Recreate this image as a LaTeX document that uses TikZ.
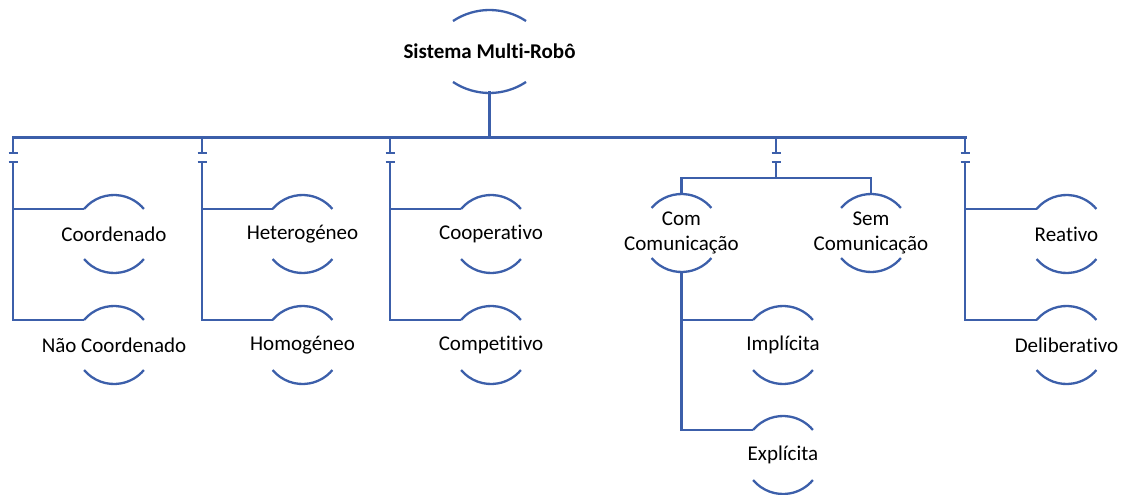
\documentclass[tikz,border=0pt]{standalone}
\usepackage{fontspec}
\setmainfont{Carlito}[Ligatures=NoCommon]
\usetikzlibrary{calc}
\definecolor{linkblue}{RGB}{60,95,170}

\begin{document}
\begin{tikzpicture}[x=1pt, y=1pt,
  ln/.style={linkblue, line width=2.3pt},
  busln/.style={linkblue, line width=3pt, line cap=rect},
  lbl/.style={inner sep=0pt, align=center, font=\fontsize{21}{25}\selectfont}]
  \useasboundingbox (0,0) rectangle (1125,-495);
  % ---- root ----
  \node[lbl, font=\bfseries\fontsize{21}{25}\selectfont] (sist) at (489.5,-51.5) {Sistema Multi-Robô};
  \draw[ln] ([yshift=-24.5pt]sist.center) ++(56.4:66) arc (56.4:123.6:66);
  \draw[ln] ([yshift=24.5pt]sist.center) ++(236.4:66) arc (236.4:303.6:66);
  \coordinate (sist-b) at ([yshift=-41.5pt]sist.center);
  % ---- leaves ----
  \node[lbl] (coord) at (114,-234) {Coordenado};
  \node[lbl] (ncoord) at (114,-345) {Não Coordenado};
  \node[lbl] (hetero) at (302.5,-234) {Heterogéneo};
  \node[lbl] (homo) at (302.5,-345) {Homogéneo};
  \node[lbl] (coop) at (491,-234) {Cooperativo};
  \node[lbl] (compet) at (491,-345) {Competitivo};
  \node[lbl] (comcom) at (681.5,-233) {Com\\Comunicação};
  \node[lbl] (semcom) at (871,-233) {Sem\\Comunicação};
  \node[lbl] (impl) at (783,-345) {Implícita};
  \node[lbl] (expl) at (783,-455) {Explícita};
  \node[lbl] (reat) at (1066.5,-234) {Reativo};
  \node[lbl] (delib) at (1066.5,-345) {Deliberativo};
  \foreach \n in {coord,ncoord,hetero,homo,coop,compet,comcom,semcom,impl,expl,reat,delib} {
    \draw[ln] (\n.center) ++(140:39) coordinate (\n-tl) arc (140:40:39);
    \draw[ln] (\n.center) ++(220:39) arc (220:320:39);
    \coordinate (\n-t) at ([yshift=39pt]\n.center);
    \coordinate (\n-b) at ([yshift=-39pt]\n.center);
  }
  % ---- bus ----
  \coordinate (k1) at (13,-137);
  \coordinate (k2) at (202,-137);
  \coordinate (k3) at (390,-137);
  \coordinate (k4) at (776,-137);
  \coordinate (k5) at (965,-137);
  \draw[busln] (sist-b) -- (sist-b |- k1);
  \draw[busln] (k1) -- (k5);
  \foreach \k in {k1,k2,k3,k4,k5} {
    \draw[ln] (\k) -- ++(0,-16) ++(-4.5,0) -- ++(9,0);
    \draw[ln] (\k) ++(-4.5,-25) -- ++(9,0);
  }
  % ---- branches ----
  \draw[ln] ([yshift=-25pt]k1) |- (coord-tl);
  \draw[ln] ([yshift=-25pt]k1) |- (ncoord-tl);
  \draw[ln] ([yshift=-25pt]k2) |- (hetero-tl);
  \draw[ln] ([yshift=-25pt]k2) |- (homo-tl);
  \draw[ln] ([yshift=-25pt]k3) |- (coop-tl);
  \draw[ln] ([yshift=-25pt]k3) |- (compet-tl);
  \draw[ln] ([yshift=-25pt]k5) |- (reat-tl);
  \draw[ln] ([yshift=-25pt]k5) |- (delib-tl);
  \draw[ln] ([yshift=-25pt]k4) -- ([yshift=-41pt]k4) coordinate (k4s);
  \draw[ln] (k4s) -| (comcom-t);
  \draw[ln] (k4s) -| (semcom-t);
  \draw[ln] (comcom-b) |- (impl-tl);
  \draw[ln] (comcom-b) |- (expl-tl);
\end{tikzpicture}
\end{document}
